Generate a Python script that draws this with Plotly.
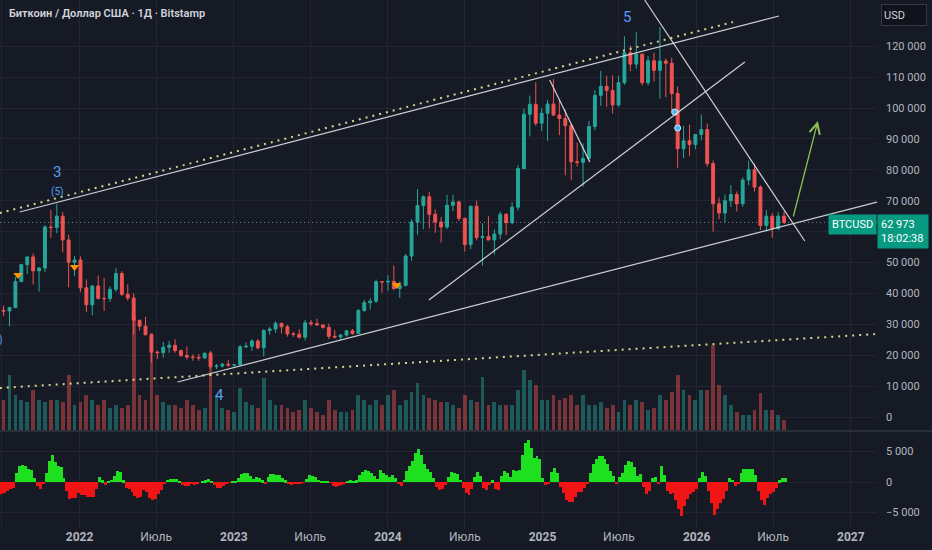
import pandas as pd
import plotly.graph_objects as go

# two-week candles, thousands of USD
open_k = [34.5, 34.3, 35.4, 43.8, 49.3, 51.8, 47.3, 48.2, 61.5, 61.3, 65.0, 57.3, 50.1, 50.8,
          41.8, 36.3, 42.4, 38.4, 38.3, 41.3, 46.4, 39.7, 38.5, 31.3, 29.4, 26.6, 21.0, 20.8,
          22.6, 23.2, 21.5, 19.9, 19.4, 19.3, 19.1, 20.6, 16.3, 16.5, 17.1, 16.8, 16.9, 22.7,
          22.9, 24.6, 22.4, 28.0, 28.5, 30.3, 29.2, 26.9, 26.8, 25.8, 30.5, 30.2, 29.8, 29.0,
          26.1, 25.9, 26.5, 27.9, 27.0, 34.5, 37.0, 37.5, 43.8, 43.7, 43.9, 41.6, 42.6, 52.1,
          63.1, 68.4, 71.3, 65.6, 63.1, 61.5, 68.5, 69.6, 64.3, 55.8, 68.2, 58.1, 58.4, 57.3,
          59.2, 65.6, 62.9, 67.9, 80.4, 98.0, 101.2, 95.1, 98.3, 101.3, 97.7, 96.6, 94.3, 82.6,
          82.4, 83.7, 94.0, 104.1, 107.0, 105.7, 101.0, 108.2, 117.9, 114.2, 117.4, 108.2, 115.3,
          112.2, 115.2, 114.5, 104.7, 86.8, 89.4, 88.2, 91.4, 93.0, 82.0, 69.0, 66.0, 70.0,
          72.0, 69.0, 76.7, 80.0, 74.4, 62.0, 65.0, 61.0, 65.0]
high_k = [36.0, 34.6, 45.3, 49.5, 51.9, 52.9, 48.5, 62.0, 67.0, 69.0, 66.3, 59.0, 52.1, 52.0,
          44.5, 42.6, 45.8, 45.0, 42.3, 48.2, 47.2, 42.9, 40.0, 31.5, 32.4, 27.0, 21.5, 24.3,
          24.7, 25.2, 21.8, 22.8, 20.3, 20.4, 21.0, 21.4, 17.2, 17.4, 18.4, 17.1, 23.3, 24.2,
          25.2, 25.2, 28.4, 29.2, 31.0, 30.5, 29.8, 27.5, 28.4, 31.4, 31.4, 31.8, 29.9, 30.2,
          28.2, 26.9, 28.0, 28.5, 35.0, 37.9, 38.4, 44.5, 44.0, 45.9, 49.0, 43.9, 52.8, 64.0,
          73.8, 71.7, 72.8, 67.2, 64.7, 71.9, 71.9, 70.0, 64.5, 68.4, 70.0, 62.7, 65.0, 60.7,
          66.5, 66.0, 69.5, 81.5, 99.8, 104.0, 108.3, 99.9, 102.7, 109.4, 102.5, 99.5, 95.0, 88.8,
          88.5, 95.8, 105.8, 112.0, 110.4, 110.6, 110.5, 123.2, 120.2, 124.5, 117.6, 116.8, 117.9,
          126.2, 116.0, 116.3, 107.0, 94.2, 94.6, 91.5, 97.9, 95.0, 83.0, 71.0, 72.0, 75.0,
          73.0, 77.5, 83.0, 82.0, 75.0, 67.0, 66.0, 66.3, 66.5]
low_k = [32.7, 29.3, 35.3, 43.7, 46.3, 42.9, 40.6, 46.9, 58.0, 59.5, 53.3, 42.0, 45.5, 40.5,
         34.0, 32.9, 38.0, 34.3, 37.2, 40.5, 39.2, 37.7, 26.7, 28.0, 26.5, 17.6, 18.8, 19.2,
         20.8, 20.8, 19.5, 18.6, 18.2, 18.2, 18.9, 15.6, 15.5, 16.0, 16.3, 16.3, 16.9, 22.3,
         21.4, 21.9, 19.6, 26.6, 27.2, 27.0, 26.0, 25.9, 25.4, 24.8, 29.5, 29.6, 28.6, 25.2,
         25.4, 24.9, 26.0, 26.6, 26.9, 34.0, 34.8, 36.9, 40.2, 40.8, 41.0, 38.5, 42.3, 50.5,
         59.0, 60.8, 61.0, 59.6, 56.5, 60.8, 66.6, 63.4, 53.5, 54.3, 57.2, 49.0, 57.2, 52.6,
         57.5, 58.9, 62.4, 66.8, 80.2, 90.8, 94.2, 92.5, 89.3, 97.5, 91.2, 78.2, 76.6, 81.1,
         74.5, 83.0, 92.8, 100.7, 100.4, 98.2, 100.4, 107.5, 111.9, 112.7, 107.3, 107.3, 108.6,
         103.0, 103.5, 98.9, 80.6, 83.8, 84.5, 86.6, 89.5, 81.0, 60.0, 64.0, 63.0, 68.0,
         66.5, 68.0, 75.0, 73.0, 60.5, 60.0, 58.0, 60.5, 62.5]
close_k = [34.3, 35.4, 43.8, 49.3, 51.8, 47.3, 48.2, 61.5, 61.3, 65.0, 57.3, 50.1, 50.8, 41.8,
           36.3, 42.4, 38.4, 38.3, 41.3, 46.4, 39.7, 38.5, 31.3, 29.4, 26.6, 21.0, 20.8, 22.6,
           23.2, 21.5, 19.9, 19.4, 19.3, 19.1, 20.6, 16.3, 16.5, 17.1, 16.8, 16.9, 22.7, 22.9,
           24.6, 22.4, 28.0, 28.5, 30.3, 29.2, 26.9, 26.8, 25.8, 30.5, 30.2, 29.8, 29.0, 26.1,
           25.9, 26.5, 27.9, 27.0, 34.5, 37.0, 37.5, 43.8, 43.7, 43.9, 41.6, 42.6, 52.1, 63.1,
           68.4, 71.3, 65.6, 63.1, 61.5, 68.5, 69.6, 64.3, 55.8, 68.2, 58.1, 58.4, 57.3, 59.2,
           65.6, 62.9, 67.9, 80.4, 98.0, 101.2, 95.1, 98.3, 101.3, 97.7, 96.6, 94.3, 82.6, 82.4,
           83.7, 94.0, 104.1, 107.0, 105.7, 101.0, 108.2, 117.9, 114.2, 117.4, 108.2, 115.3, 112.2,
           115.2, 114.5, 104.7, 86.8, 89.4, 88.2, 91.4, 93.0, 82.0, 69.0, 66.0, 70.0, 72.0,
           69.0, 76.7, 80.0, 74.4, 62.0, 65.0, 61.0, 65.0, 62.973]
# relative volume per candle
volume = [30, 55, 35, 30, 28, 40, 30, 28, 30, 30, 28, 55, 25, 28, 35, 30, 25, 30, 22, 25,
          22, 25, 113, 35, 30, 97, 35, 28, 25, 25, 22, 30, 25, 20, 22, 78, 35, 22, 20, 18,
          42, 28, 25, 22, 52, 30, 25, 25, 22, 18, 20, 30, 22, 18, 15, 30, 20, 18, 18, 20,
          35, 30, 25, 30, 25, 35, 40, 25, 30, 38, 47, 35, 32, 30, 28, 28, 25, 22, 35, 30,
          28, 53, 25, 28, 25, 25, 25, 40, 60, 50, 45, 30, 30, 35, 30, 32, 35, 25, 35, 25,
          25, 28, 22, 25, 18, 30, 25, 30, 28, 20, 22, 35, 30, 38, 55, 40, 35, 30, 40, 40,
          85, 45, 35, 25, 18, 15, 15, 20, 37, 20, 20, 15, 10]
# weekly oscillator
osc = [-1900, -1800, -1500, -1200, -1000, 1500, 2600, 2840, 2700, 2200, 1900, 600,
       -700, -1100, -300, 1500, 3500, 4370, 3200, 2600, 2460, 600,
       -1500, -2730, -2600, -2700, -1800, -2100, -2200, -2450, -2500, -2400, -1200,
       800, 300, -500, 200, 400, 1000, 1750, 1600, 300,
       -900, -1100, -1600, -2300, -2600, -2400, -1300, -1700, -2600, -3000, -2800, -2000, -1300, -400,
       400, 550, 500, 450, 200, -500, -650, -600, -300, -500, -300,
       0, 100, 300, 450, 200, -500, -930, -900, -600, -300,
       -100, 100, 200, 700, 1300, 1530, 1400, 1000, 500, 800, 700, 300, -400, 900, 1360, 1300,
       1200, 1100, 700, 300, -300, -440, -400, -300, -200, -100,
       500, 1100, 1000, 800, 400, 100, 50, 50, -100, -600, -820, -700, -500, -200,
       100, 300, 200, 300, 1200, 1600, 2000, 1800, 1400, 1000, 500, 1900, 1400, 1100, 900, 1200,
       600, -400, -650, 400, 1800, 2600, 3500, 4800, 5460, 4500, 3000, 2200, 1600, 600,
       -800, -1250, -1100, -500, 900, 1640, 1500, 1300, 400, -900, -1800, -2180, -1200,
       900, 1640, 1000, -1000, -1360, -500, 300, -1200, -1360,
       1000, 1750, 1400, 800, 1900, 1800, 2000, 4500, 6400, 6860, 5500, 4000, 4300, 3800, 600,
       -550, -300, 1600, 2300, 1500, -800, -1800, -2900, -3280, -3200, -2500, -1600, -1640, -1000, -300,
       1500, 3000, 3700, 4200, 4200, 3800, 3000, 1800, 1000, -300,
       800, 1500, 2800, 3440, 3200, 2400, 1000, 1360, -800, -1900, -1400, 600, 800, -400, 2600, 1200,
       -1500, -2000, -1800, -3000, -4500, -5570, -4000, -2800, -1900, -1640, -1200,
       600, 1640, 1000, -1500, -3500, -5460, -4500, -3500, -2730, -1500,
       700, 400, -700, -300, 1500, 2200, 2200, 2100, 2200, 1200,
       -1500, -3000, -3820, -2600, -2000, -1640, -1000, 300, 600, 700]

signal_dates = ["2021-08-08", "2021-12-20", "2024-01-22"]
signal_prices = [45950, 48540, 42715]
dot_dates = ["2025-11-10", "2025-11-17"]
dot_prices = [98698, 93520]
last_price = 62973

x_ticks = ["2021-07-01", "2022-01-01", "2022-07-01", "2023-01-01", "2023-07-01", "2024-01-01",
           "2024-07-01", "2025-01-01", "2025-07-01", "2026-01-01", "2026-07-01", "2027-01-01"]
x_labels = ["Июль", "<b>2022</b>", "Июль", "<b>2023</b>", "Июль", "<b>2024</b>", "Июль",
            "<b>2025</b>", "Июль", "<b>2026</b>", "Июль", "<b>2027</b>"]
price_ticks = [0, 10000, 20000, 30000, 40000, 50000, 60000, 70000, 80000, 90000, 100000, 110000, 120000]
# 60 000 sits under the last-price label
price_labels = ["0", "10 000", "20 000", "30 000", "40 000", "50 000", "", "70 000",
                "80 000", "90 000", "100 000", "110 000", "120 000"]
osc_ticks = [5000, 0, -5000]
osc_labels = ["5 000", "0", "−5 000"]

BG = "#161a25"
GRID = "#232632"
TXT = "#b2b5be"
UP = "#26a69a"
DOWN = "#ef5350"
WAVE = "#5b9cf6"

df = pd.DataFrame({"open": open_k, "high": high_k, "low": low_k, "close": close_k, "vol": volume},
                  index=pd.date_range("2021-07-05", periods=len(close_k), freq="14D"))
df[["open", "high", "low", "close"]] *= 1000
vol_colors = ["rgba(38,166,154,0.45)" if c >= o else "rgba(239,83,80,0.45)"
              for o, c in zip(df["open"], df["close"])]
osc_dates = pd.date_range("2021-07-01", periods=len(osc), freq="7D")
osc_colors = ["#1fe01f" if v >= 0 else "#f01414" for v in osc]
day_ms = 24 * 3600 * 1000

fig = go.Figure()
fig.add_trace(go.Bar(x=df.index, y=df["vol"], yaxis="y", marker_color=vol_colors,
                     marker_line_width=0, width=9 * day_ms))
fig.add_trace(go.Candlestick(x=df.index, open=df["open"], high=df["high"], low=df["low"], close=df["close"],
                             yaxis="y2",
                             increasing=dict(line=dict(color=UP, width=1), fillcolor=UP),
                             decreasing=dict(line=dict(color=DOWN, width=1), fillcolor=DOWN)))
fig.add_trace(go.Scatter(x=signal_dates, y=signal_prices, yaxis="y2", mode="markers",
                         marker=dict(symbol="triangle-down", color="#ff9800", size=8)))
fig.add_trace(go.Scatter(x=dot_dates, y=dot_prices, yaxis="y2", mode="markers",
                         marker=dict(symbol="circle", color="#4fb3f0", size=6,
                                     line=dict(color="#d0ecff", width=1))))
fig.add_trace(go.Bar(x=osc_dates, y=osc, yaxis="y3", marker_color=osc_colors,
                     marker_line_width=0, width=7 * day_ms))

white = dict(color="rgba(225,227,232,0.9)", width=1.2)
dotted = dict(color="#d6d68c", width=2, dash="2px,5px")
lines = [
    ("2021-08-12", 66338, "2026-07-15", 129764, white),
    ("2021-06-26", 66014, "2026-03-28", 127822, dotted),
    ("2021-06-26", 9384, "2027-03-04", 26859, dotted),
    ("2022-08-21", 11326, "2027-03-04", 69574, white),
    ("2024-04-07", 37861, "2026-04-25", 114878, white),
    ("2025-01-18", 109053, "2025-04-23", 82518, white),
    ("2025-08-31", 134941, "2026-09-14", 56954, white),
]
shapes = [dict(type="line", xref="x", yref="y2", x0=a, y0=b, x1=c, y1=d, line=st)
          for a, b, c, d, st in lines]
shapes.append(dict(type="line", xref="paper", yref="y2", x0=0, x1=1, y0=last_price, y1=last_price,
                   line=dict(color="rgba(150,155,165,0.8)", width=1, dash="1px,3px")))
shapes.append(dict(type="line", xref="paper", yref="paper", x0=0, x1=1.07, y0=0.1838, y1=0.1838,
                   line=dict(color="#2a2e39", width=2)))

ann = [
    dict(x="2021-11-08", y=79282, text="3", font=dict(size=15, color=WAVE)),
    dict(x="2021-11-10", y=72810, text="(5)", font=dict(size=10, color=WAVE)),
    dict(x="2025-07-20", y=129440, text="5", font=dict(size=15, color=WAVE)),
    dict(x="2022-11-29", y=7119, text="4", font=dict(size=15, color=WAVE)),
]
for a in ann:
    a.update(xref="x", yref="y2", showarrow=False)
ann.append(dict(xref="paper", yref="y2", x=5 / 877, y=24917, xanchor="right", text="(4)",
                showarrow=False, font=dict(size=10, color=WAVE)))
ann.append(dict(xref="x", yref="y2", x="2026-10-15", y=95786, ax="2026-08-17", ay=64396,
                axref="x", ayref="y2", showarrow=True, arrowhead=5, arrowsize=1.6,
                arrowwidth=1.3, arrowcolor="#8cc152", text=""))
ann.append(dict(xref="paper", yref="paper", x=7 / 877, y=0.9735, xanchor="left", yanchor="middle",
                text="Биткоин / Доллар США · 1Д · Bitstamp", showarrow=False,
                font=dict(size=11, color="#d1d4dc", weight=600)))
ann.append(dict(xref="paper", yref="paper", x=1.004, y=0.993, xanchor="left", yanchor="top",
                text="USD", showarrow=False, align="left", width=40, height=16,
                bgcolor="#10131b", bordercolor="#363a45", borderwidth=1, borderpad=2,
                font=dict(size=11, color="#d1d4dc")))
ann.append(dict(xref="paper", yref="y2", x=1, y=last_price, xanchor="right", yanchor="middle",
                yshift=-2, text="BTCUSD", showarrow=False, bgcolor="#089981", borderpad=3,
                font=dict(size=11, color="white")))
ann.append(dict(xref="paper", yref="y2", x=1, y=last_price, xanchor="left", yanchor="middle",
                yshift=-9, text="62 973<br>18:02:38", showarrow=False, align="left",
                bgcolor="#089981", borderpad=3, width=44,
                font=dict(size=11, color="white")))

fig.update_layout(
    width=932, height=550,
    margin=dict(l=0, r=55, t=0, b=22, autoexpand=False),
    paper_bgcolor=BG, plot_bgcolor=BG,
    showlegend=False,
    font=dict(family="Roboto, Noto Sans, sans-serif", color=TXT, size=11),
    xaxis=dict(type="date", range=["2021-06-26 12:00", "2027-03-04"], anchor="y3",
               tickvals=x_ticks, ticktext=x_labels, tickangle=0, automargin=False,
               showgrid=True, gridcolor=GRID, zeroline=False, showline=False,
               rangeslider=dict(visible=False), ticks="", tickfont=dict(size=12, color=TXT)),
    yaxis=dict(domain=[0.1856, 1], range=[0, 430], visible=False, showgrid=False, fixedrange=True),
    yaxis2=dict(domain=[0.1856, 1], overlaying="y", side="right", range=[-4207, 134950],
                tickvals=price_ticks, ticktext=price_labels, showgrid=True, gridcolor=GRID,
                automargin=False, zeroline=False, ticks="", ticklabelstandoff=8,
                tickfont=dict(size=11, color=TXT)),
    yaxis3=dict(domain=[0, 0.1818], side="right", range=[-7540, 8200], anchor="x",
                tickvals=osc_ticks, ticktext=osc_labels, showgrid=True, gridcolor=GRID,
                automargin=False, zeroline=False, ticks="", ticklabelstandoff=8,
                tickfont=dict(size=11, color=TXT)),
    shapes=shapes,
    annotations=ann,
    bargap=0,
)
# page body margin would shift the 932x550 figure inside the window
fig.write_html("out.html", config={"displayModeBar": False},
               post_script="document.body.style.margin='0px';")
